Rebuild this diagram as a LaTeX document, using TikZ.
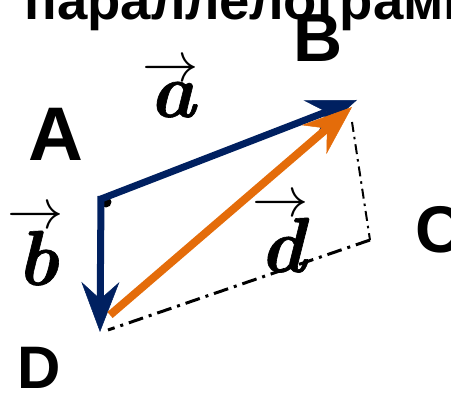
\documentclass[tikz,border=0pt]{standalone}
\usepackage{fontspec}
\newfontfamily\sansb{Liberation Sans}
\newfontfamily\vecfont{Latin Modern Roman}[FakeBold=0.8]
\usetikzlibrary{arrows.meta}
\definecolor{navy}{HTML}{002060}
\definecolor{orng}{HTML}{E46C0A}
% #1 letter, #2 raise of the arrow
\newcommand{\vlab}[2]{\ooalign{\hfil\raisebox{#2}{\scalebox{3.25}{\fontsize{17.28}{18}\selectfont$\rightarrow$}}\hfil\cr\hfil\kern3pt\scalebox{3}{\fontsize{26}{30}\selectfont\vecfont\bfseries\itshape #1}\hfil\cr}}
\begin{document}
\begin{tikzpicture}[x=1pt,y=-1pt,
  lbl/.style={inner sep=0pt, anchor=base west},
  vlbl/.style={inner sep=0pt, anchor=base},
  vecblue/.style={draw=navy, line width=7pt, -{Stealth[length=50pt,width=38pt,inset=17pt,line width=0.5pt]}},
  vecorange/.style={draw=orng, line width=8pt, -{Stealth[length=50pt,width=38pt,inset=17pt,line width=0.5pt]}},
  dashbottom/.style={draw=black, line width=3pt, dash pattern=on 15pt off 6pt on 3pt off 6pt},
  dashright/.style={draw=black, line width=2pt, dash pattern=on 10pt off 5pt on 2.5pt off 5pt},
  dotnode/.style={circle, fill=black, inner sep=0pt, minimum size=11pt}]
\useasboundingbox (0,0) rectangle (451,395);
% points
\coordinate (A) at (101,199);
\coordinate (Atop) at (101,196);
\coordinate (Btip) at (357,100);
\coordinate (Dtip) at (100,332);
\coordinate (Ds) at (110,315);
\coordinate (Dt) at (352,107);
\coordinate (Bd) at (352,122);
\coordinate (C) at (370,240);
\coordinate (Dd) at (108,330);
% title
\node[lbl, font=\sansb\bfseries\fontsize{54.5}{54.5}\selectfont] (title) at (24,20) {параллелограмм};
% letters
\node[lbl, font=\sansb\bfseries\fontsize{76}{76}\selectfont] (LA) at (28,161) {A};
\node[lbl, font=\sansb\bfseries\fontsize{68}{68}\selectfont] (LB) at (293,62) {B};
\node[lbl, font=\sansb\bfseries\fontsize{66}{66}\selectfont] (LC) at (415,253) {C};
\node[lbl, font=\sansb\bfseries\fontsize{60}{60}\selectfont] (LD) at (17,389) {D};
% vector labels
\node[vlbl] (va) at (171,117) {\vlab{a}{35pt}};
\node[vlbl] (vb) at (36,285) {\vlab{b}{56pt}};
\node[vlbl] (vd) at (281,272) {\vlab{d}{55pt}};
% dash-dot sides
\draw[dashright] (Bd) -- (C);
\draw[dashbottom] (C) -- (Dd);
% dot at A
\node[dotnode] (dot) at (106,202) {};
% vectors
\draw[vecblue] (A) -- (Btip);
\draw[vecblue] (Atop) -- (Dtip);
\draw[vecorange] (Ds) -- (Dt);
\end{tikzpicture}
\end{document}
